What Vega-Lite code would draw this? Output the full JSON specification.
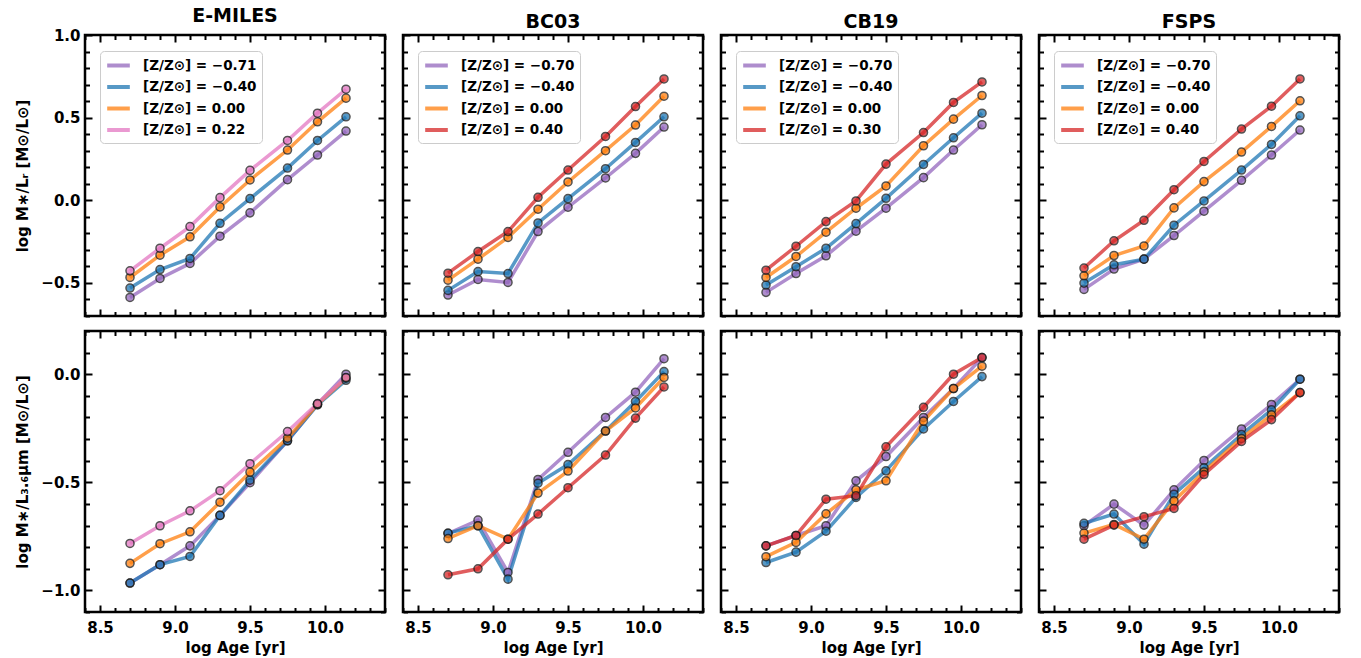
{
"$schema": "https://vega.github.io/schema/vega-lite/v6.json",
"padding": {"left": 14, "top": 5, "right": 5, "bottom": 5},
"data": {"values": [
{"model":"E-MILES","band":"r","Z":"-0.71","age":8.7,"ml":-0.588},{"model":"E-MILES","band":"r","Z":"-0.71","age":8.9,"ml":-0.473},{"model":"E-MILES","band":"r","Z":"-0.71","age":9.1,"ml":-0.382},{"model":"E-MILES","band":"r","Z":"-0.71","age":9.3,"ml":-0.217},{"model":"E-MILES","band":"r","Z":"-0.71","age":9.5,"ml":-0.076},{"model":"E-MILES","band":"r","Z":"-0.71","age":9.75,"ml":0.125},{"model":"E-MILES","band":"r","Z":"-0.71","age":9.95,"ml":0.274},{"model":"E-MILES","band":"r","Z":"-0.71","age":10.14,"ml":0.419},
{"model":"E-MILES","band":"r","Z":"-0.40","age":8.7,"ml":-0.531},{"model":"E-MILES","band":"r","Z":"-0.40","age":8.9,"ml":-0.419},{"model":"E-MILES","band":"r","Z":"-0.40","age":9.1,"ml":-0.352},{"model":"E-MILES","band":"r","Z":"-0.40","age":9.3,"ml":-0.139},{"model":"E-MILES","band":"r","Z":"-0.40","age":9.5,"ml":0.010},{"model":"E-MILES","band":"r","Z":"-0.40","age":9.75,"ml":0.195},{"model":"E-MILES","band":"r","Z":"-0.40","age":9.95,"ml":0.362},{"model":"E-MILES","band":"r","Z":"-0.40","age":10.14,"ml":0.505},
{"model":"E-MILES","band":"r","Z":"0.00","age":8.7,"ml":-0.467},{"model":"E-MILES","band":"r","Z":"0.00","age":8.9,"ml":-0.332},{"model":"E-MILES","band":"r","Z":"0.00","age":9.1,"ml":-0.221},{"model":"E-MILES","band":"r","Z":"0.00","age":9.3,"ml":-0.040},{"model":"E-MILES","band":"r","Z":"0.00","age":9.5,"ml":0.123},{"model":"E-MILES","band":"r","Z":"0.00","age":9.75,"ml":0.304},{"model":"E-MILES","band":"r","Z":"0.00","age":9.95,"ml":0.475},{"model":"E-MILES","band":"r","Z":"0.00","age":10.14,"ml":0.618},
{"model":"E-MILES","band":"r","Z":"0.22","age":8.7,"ml":-0.427},{"model":"E-MILES","band":"r","Z":"0.22","age":8.9,"ml":-0.290},{"model":"E-MILES","band":"r","Z":"0.22","age":9.1,"ml":-0.159},{"model":"E-MILES","band":"r","Z":"0.22","age":9.3,"ml":0.016},{"model":"E-MILES","band":"r","Z":"0.22","age":9.5,"ml":0.181},{"model":"E-MILES","band":"r","Z":"0.22","age":9.75,"ml":0.362},{"model":"E-MILES","band":"r","Z":"0.22","age":9.95,"ml":0.527},{"model":"E-MILES","band":"r","Z":"0.22","age":10.14,"ml":0.672},
{"model":"BC03","band":"r","Z":"-0.70","age":8.7,"ml":-0.573},{"model":"BC03","band":"r","Z":"-0.70","age":8.9,"ml":-0.479},{"model":"BC03","band":"r","Z":"-0.70","age":9.1,"ml":-0.497},{"model":"BC03","band":"r","Z":"-0.70","age":9.3,"ml":-0.189},{"model":"BC03","band":"r","Z":"-0.70","age":9.5,"ml":-0.042},{"model":"BC03","band":"r","Z":"-0.70","age":9.75,"ml":0.135},{"model":"BC03","band":"r","Z":"-0.70","age":9.95,"ml":0.284},{"model":"BC03","band":"r","Z":"-0.70","age":10.14,"ml":0.443},
{"model":"BC03","band":"r","Z":"-0.40","age":8.7,"ml":-0.545},{"model":"BC03","band":"r","Z":"-0.40","age":8.9,"ml":-0.431},{"model":"BC03","band":"r","Z":"-0.40","age":9.1,"ml":-0.443},{"model":"BC03","band":"r","Z":"-0.40","age":9.3,"ml":-0.137},{"model":"BC03","band":"r","Z":"-0.40","age":9.5,"ml":0.010},{"model":"BC03","band":"r","Z":"-0.40","age":9.75,"ml":0.191},{"model":"BC03","band":"r","Z":"-0.40","age":9.95,"ml":0.350},{"model":"BC03","band":"r","Z":"-0.40","age":10.14,"ml":0.505},
{"model":"BC03","band":"r","Z":"0.00","age":8.7,"ml":-0.483},{"model":"BC03","band":"r","Z":"0.00","age":8.9,"ml":-0.356},{"model":"BC03","band":"r","Z":"0.00","age":9.1,"ml":-0.225},{"model":"BC03","band":"r","Z":"0.00","age":9.3,"ml":-0.054},{"model":"BC03","band":"r","Z":"0.00","age":9.5,"ml":0.111},{"model":"BC03","band":"r","Z":"0.00","age":9.75,"ml":0.300},{"model":"BC03","band":"r","Z":"0.00","age":9.95,"ml":0.455},{"model":"BC03","band":"r","Z":"0.00","age":10.14,"ml":0.630},
{"model":"BC03","band":"r","Z":"0.40","age":8.7,"ml":-0.441},{"model":"BC03","band":"r","Z":"0.40","age":8.9,"ml":-0.310},{"model":"BC03","band":"r","Z":"0.40","age":9.1,"ml":-0.189},{"model":"BC03","band":"r","Z":"0.40","age":9.3,"ml":0.018},{"model":"BC03","band":"r","Z":"0.40","age":9.5,"ml":0.183},{"model":"BC03","band":"r","Z":"0.40","age":9.75,"ml":0.386},{"model":"BC03","band":"r","Z":"0.40","age":9.95,"ml":0.567},{"model":"BC03","band":"r","Z":"0.40","age":10.14,"ml":0.734},
{"model":"CB19","band":"r","Z":"-0.70","age":8.7,"ml":-0.557},{"model":"CB19","band":"r","Z":"-0.70","age":8.9,"ml":-0.443},{"model":"CB19","band":"r","Z":"-0.70","age":9.1,"ml":-0.336},{"model":"CB19","band":"r","Z":"-0.70","age":9.3,"ml":-0.187},{"model":"CB19","band":"r","Z":"-0.70","age":9.5,"ml":-0.048},{"model":"CB19","band":"r","Z":"-0.70","age":9.75,"ml":0.137},{"model":"CB19","band":"r","Z":"-0.70","age":9.95,"ml":0.304},{"model":"CB19","band":"r","Z":"-0.70","age":10.14,"ml":0.457},
{"model":"CB19","band":"r","Z":"-0.40","age":8.7,"ml":-0.513},{"model":"CB19","band":"r","Z":"-0.40","age":8.9,"ml":-0.402},{"model":"CB19","band":"r","Z":"-0.40","age":9.1,"ml":-0.290},{"model":"CB19","band":"r","Z":"-0.40","age":9.3,"ml":-0.141},{"model":"CB19","band":"r","Z":"-0.40","age":9.5,"ml":0.012},{"model":"CB19","band":"r","Z":"-0.40","age":9.75,"ml":0.217},{"model":"CB19","band":"r","Z":"-0.40","age":9.95,"ml":0.378},{"model":"CB19","band":"r","Z":"-0.40","age":10.14,"ml":0.527},
{"model":"CB19","band":"r","Z":"0.00","age":8.7,"ml":-0.467},{"model":"CB19","band":"r","Z":"0.00","age":8.9,"ml":-0.340},{"model":"CB19","band":"r","Z":"0.00","age":9.1,"ml":-0.193},{"model":"CB19","band":"r","Z":"0.00","age":9.3,"ml":-0.048},{"model":"CB19","band":"r","Z":"0.00","age":9.5,"ml":0.087},{"model":"CB19","band":"r","Z":"0.00","age":9.75,"ml":0.330},{"model":"CB19","band":"r","Z":"0.00","age":9.95,"ml":0.491},{"model":"CB19","band":"r","Z":"0.00","age":10.14,"ml":0.634},
{"model":"CB19","band":"r","Z":"0.30","age":8.7,"ml":-0.423},{"model":"CB19","band":"r","Z":"0.30","age":8.9,"ml":-0.278},{"model":"CB19","band":"r","Z":"0.30","age":9.1,"ml":-0.129},{"model":"CB19","band":"r","Z":"0.30","age":9.3,"ml":-0.004},{"model":"CB19","band":"r","Z":"0.30","age":9.5,"ml":0.219},{"model":"CB19","band":"r","Z":"0.30","age":9.75,"ml":0.410},{"model":"CB19","band":"r","Z":"0.30","age":9.95,"ml":0.592},{"model":"CB19","band":"r","Z":"0.30","age":10.14,"ml":0.716},
{"model":"FSPS","band":"r","Z":"-0.70","age":8.7,"ml":-0.539},{"model":"FSPS","band":"r","Z":"-0.70","age":8.9,"ml":-0.416},{"model":"FSPS","band":"r","Z":"-0.70","age":9.1,"ml":-0.356},{"model":"FSPS","band":"r","Z":"-0.70","age":9.3,"ml":-0.213},{"model":"FSPS","band":"r","Z":"-0.70","age":9.5,"ml":-0.066},{"model":"FSPS","band":"r","Z":"-0.70","age":9.75,"ml":0.121},{"model":"FSPS","band":"r","Z":"-0.70","age":9.95,"ml":0.274},{"model":"FSPS","band":"r","Z":"-0.70","age":10.14,"ml":0.425},
{"model":"FSPS","band":"r","Z":"-0.40","age":8.7,"ml":-0.501},{"model":"FSPS","band":"r","Z":"-0.40","age":8.9,"ml":-0.390},{"model":"FSPS","band":"r","Z":"-0.40","age":9.1,"ml":-0.356},{"model":"FSPS","band":"r","Z":"-0.40","age":9.3,"ml":-0.151},{"model":"FSPS","band":"r","Z":"-0.40","age":9.5,"ml":-0.004},{"model":"FSPS","band":"r","Z":"-0.40","age":9.75,"ml":0.183},{"model":"FSPS","band":"r","Z":"-0.40","age":9.95,"ml":0.338},{"model":"FSPS","band":"r","Z":"-0.40","age":10.14,"ml":0.511},
{"model":"FSPS","band":"r","Z":"0.00","age":8.7,"ml":-0.457},{"model":"FSPS","band":"r","Z":"0.00","age":8.9,"ml":-0.334},{"model":"FSPS","band":"r","Z":"0.00","age":9.1,"ml":-0.276},{"model":"FSPS","band":"r","Z":"0.00","age":9.3,"ml":-0.046},{"model":"FSPS","band":"r","Z":"0.00","age":9.5,"ml":0.113},{"model":"FSPS","band":"r","Z":"0.00","age":9.75,"ml":0.292},{"model":"FSPS","band":"r","Z":"0.00","age":9.95,"ml":0.447},{"model":"FSPS","band":"r","Z":"0.00","age":10.14,"ml":0.602},
{"model":"FSPS","band":"r","Z":"0.40","age":8.7,"ml":-0.410},{"model":"FSPS","band":"r","Z":"0.40","age":8.9,"ml":-0.245},{"model":"FSPS","band":"r","Z":"0.40","age":9.1,"ml":-0.121},{"model":"FSPS","band":"r","Z":"0.40","age":9.3,"ml":0.064},{"model":"FSPS","band":"r","Z":"0.40","age":9.5,"ml":0.235},{"model":"FSPS","band":"r","Z":"0.40","age":9.75,"ml":0.431},{"model":"FSPS","band":"r","Z":"0.40","age":9.95,"ml":0.569},{"model":"FSPS","band":"r","Z":"0.40","age":10.14,"ml":0.734},
{"model":"E-MILES","band":"ir","Z":"-0.71","age":8.7,"ml":-0.966},{"model":"E-MILES","band":"ir","Z":"-0.71","age":8.9,"ml":-0.881},{"model":"E-MILES","band":"ir","Z":"-0.71","age":9.1,"ml":-0.794},{"model":"E-MILES","band":"ir","Z":"-0.71","age":9.3,"ml":-0.653},{"model":"E-MILES","band":"ir","Z":"-0.71","age":9.5,"ml":-0.502},{"model":"E-MILES","band":"ir","Z":"-0.71","age":9.75,"ml":-0.308},{"model":"E-MILES","band":"ir","Z":"-0.71","age":9.95,"ml":-0.139},{"model":"E-MILES","band":"ir","Z":"-0.71","age":10.14,"ml":0.000},
{"model":"E-MILES","band":"ir","Z":"-0.40","age":8.7,"ml":-0.966},{"model":"E-MILES","band":"ir","Z":"-0.40","age":8.9,"ml":-0.881},{"model":"E-MILES","band":"ir","Z":"-0.40","age":9.1,"ml":-0.843},{"model":"E-MILES","band":"ir","Z":"-0.40","age":9.3,"ml":-0.653},{"model":"E-MILES","band":"ir","Z":"-0.40","age":9.5,"ml":-0.490},{"model":"E-MILES","band":"ir","Z":"-0.40","age":9.75,"ml":-0.308},{"model":"E-MILES","band":"ir","Z":"-0.40","age":9.95,"ml":-0.142},{"model":"E-MILES","band":"ir","Z":"-0.40","age":10.14,"ml":-0.028},
{"model":"E-MILES","band":"ir","Z":"0.00","age":8.7,"ml":-0.875},{"model":"E-MILES","band":"ir","Z":"0.00","age":8.9,"ml":-0.784},{"model":"E-MILES","band":"ir","Z":"0.00","age":9.1,"ml":-0.729},{"model":"E-MILES","band":"ir","Z":"0.00","age":9.3,"ml":-0.592},{"model":"E-MILES","band":"ir","Z":"0.00","age":9.5,"ml":-0.453},{"model":"E-MILES","band":"ir","Z":"0.00","age":9.75,"ml":-0.296},{"model":"E-MILES","band":"ir","Z":"0.00","age":9.95,"ml":-0.139},{"model":"E-MILES","band":"ir","Z":"0.00","age":10.14,"ml":-0.018},
{"model":"E-MILES","band":"ir","Z":"0.22","age":8.7,"ml":-0.783},{"model":"E-MILES","band":"ir","Z":"0.22","age":8.9,"ml":-0.701},{"model":"E-MILES","band":"ir","Z":"0.22","age":9.1,"ml":-0.632},{"model":"E-MILES","band":"ir","Z":"0.22","age":9.3,"ml":-0.539},{"model":"E-MILES","band":"ir","Z":"0.22","age":9.5,"ml":-0.414},{"model":"E-MILES","band":"ir","Z":"0.22","age":9.75,"ml":-0.265},{"model":"E-MILES","band":"ir","Z":"0.22","age":9.95,"ml":-0.136},{"model":"E-MILES","band":"ir","Z":"0.22","age":10.14,"ml":-0.015},
{"model":"BC03","band":"ir","Z":"-0.70","age":8.7,"ml":-0.737},{"model":"BC03","band":"ir","Z":"-0.70","age":8.9,"ml":-0.675},{"model":"BC03","band":"ir","Z":"-0.70","age":9.1,"ml":-0.917},{"model":"BC03","band":"ir","Z":"-0.70","age":9.3,"ml":-0.487},{"model":"BC03","band":"ir","Z":"-0.70","age":9.5,"ml":-0.361},{"model":"BC03","band":"ir","Z":"-0.70","age":9.75,"ml":-0.200},{"model":"BC03","band":"ir","Z":"-0.70","age":9.95,"ml":-0.083},{"model":"BC03","band":"ir","Z":"-0.70","age":10.14,"ml":0.072},
{"model":"BC03","band":"ir","Z":"-0.40","age":8.7,"ml":-0.735},{"model":"BC03","band":"ir","Z":"-0.40","age":8.9,"ml":-0.701},{"model":"BC03","band":"ir","Z":"-0.40","age":9.1,"ml":-0.948},{"model":"BC03","band":"ir","Z":"-0.40","age":9.3,"ml":-0.504},{"model":"BC03","band":"ir","Z":"-0.40","age":9.5,"ml":-0.418},{"model":"BC03","band":"ir","Z":"-0.40","age":9.75,"ml":-0.263},{"model":"BC03","band":"ir","Z":"-0.40","age":9.95,"ml":-0.126},{"model":"BC03","band":"ir","Z":"-0.40","age":10.14,"ml":0.012},
{"model":"BC03","band":"ir","Z":"0.00","age":8.7,"ml":-0.760},{"model":"BC03","band":"ir","Z":"0.00","age":8.9,"ml":-0.701},{"model":"BC03","band":"ir","Z":"0.00","age":9.1,"ml":-0.763},{"model":"BC03","band":"ir","Z":"0.00","age":9.3,"ml":-0.550},{"model":"BC03","band":"ir","Z":"0.00","age":9.5,"ml":-0.448},{"model":"BC03","band":"ir","Z":"0.00","age":9.75,"ml":-0.263},{"model":"BC03","band":"ir","Z":"0.00","age":9.95,"ml":-0.156},{"model":"BC03","band":"ir","Z":"0.00","age":10.14,"ml":-0.015},
{"model":"BC03","band":"ir","Z":"0.40","age":8.7,"ml":-0.928},{"model":"BC03","band":"ir","Z":"0.40","age":8.9,"ml":-0.900},{"model":"BC03","band":"ir","Z":"0.40","age":9.1,"ml":-0.763},{"model":"BC03","band":"ir","Z":"0.40","age":9.3,"ml":-0.647},{"model":"BC03","band":"ir","Z":"0.40","age":9.5,"ml":-0.525},{"model":"BC03","band":"ir","Z":"0.40","age":9.75,"ml":-0.374},{"model":"BC03","band":"ir","Z":"0.40","age":9.95,"ml":-0.203},{"model":"BC03","band":"ir","Z":"0.40","age":10.14,"ml":-0.059},
{"model":"CB19","band":"ir","Z":"-0.70","age":8.7,"ml":-0.794},{"model":"CB19","band":"ir","Z":"-0.70","age":8.9,"ml":-0.746},{"model":"CB19","band":"ir","Z":"-0.70","age":9.1,"ml":-0.701},{"model":"CB19","band":"ir","Z":"-0.70","age":9.3,"ml":-0.493},{"model":"CB19","band":"ir","Z":"-0.70","age":9.5,"ml":-0.381},{"model":"CB19","band":"ir","Z":"-0.70","age":9.75,"ml":-0.200},{"model":"CB19","band":"ir","Z":"-0.70","age":9.95,"ml":-0.066},{"model":"CB19","band":"ir","Z":"-0.70","age":10.14,"ml":0.077},
{"model":"CB19","band":"ir","Z":"-0.40","age":8.7,"ml":-0.871},{"model":"CB19","band":"ir","Z":"-0.40","age":8.9,"ml":-0.823},{"model":"CB19","band":"ir","Z":"-0.40","age":9.1,"ml":-0.726},{"model":"CB19","band":"ir","Z":"-0.40","age":9.3,"ml":-0.570},{"model":"CB19","band":"ir","Z":"-0.40","age":9.5,"ml":-0.447},{"model":"CB19","band":"ir","Z":"-0.40","age":9.75,"ml":-0.253},{"model":"CB19","band":"ir","Z":"-0.40","age":9.95,"ml":-0.126},{"model":"CB19","band":"ir","Z":"-0.40","age":10.14,"ml":-0.011},
{"model":"CB19","band":"ir","Z":"0.00","age":8.7,"ml":-0.844},{"model":"CB19","band":"ir","Z":"0.00","age":8.9,"ml":-0.778},{"model":"CB19","band":"ir","Z":"0.00","age":9.1,"ml":-0.646},{"model":"CB19","band":"ir","Z":"0.00","age":9.3,"ml":-0.535},{"model":"CB19","band":"ir","Z":"0.00","age":9.5,"ml":-0.493},{"model":"CB19","band":"ir","Z":"0.00","age":9.75,"ml":-0.217},{"model":"CB19","band":"ir","Z":"0.00","age":9.95,"ml":-0.066},{"model":"CB19","band":"ir","Z":"0.00","age":10.14,"ml":0.037},
{"model":"CB19","band":"ir","Z":"0.30","age":8.7,"ml":-0.794},{"model":"CB19","band":"ir","Z":"0.30","age":8.9,"ml":-0.746},{"model":"CB19","band":"ir","Z":"0.30","age":9.1,"ml":-0.578},{"model":"CB19","band":"ir","Z":"0.30","age":9.3,"ml":-0.562},{"model":"CB19","band":"ir","Z":"0.30","age":9.5,"ml":-0.336},{"model":"CB19","band":"ir","Z":"0.30","age":9.75,"ml":-0.153},{"model":"CB19","band":"ir","Z":"0.30","age":9.95,"ml":0.000},{"model":"CB19","band":"ir","Z":"0.30","age":10.14,"ml":0.077},
{"model":"FSPS","band":"ir","Z":"-0.70","age":8.7,"ml":-0.701},{"model":"FSPS","band":"ir","Z":"-0.70","age":8.9,"ml":-0.601},{"model":"FSPS","band":"ir","Z":"-0.70","age":9.1,"ml":-0.698},{"model":"FSPS","band":"ir","Z":"-0.70","age":9.3,"ml":-0.535},{"model":"FSPS","band":"ir","Z":"-0.70","age":9.5,"ml":-0.399},{"model":"FSPS","band":"ir","Z":"-0.70","age":9.75,"ml":-0.253},{"model":"FSPS","band":"ir","Z":"-0.70","age":9.95,"ml":-0.140},{"model":"FSPS","band":"ir","Z":"-0.70","age":10.14,"ml":-0.023},
{"model":"FSPS","band":"ir","Z":"-0.40","age":8.7,"ml":-0.690},{"model":"FSPS","band":"ir","Z":"-0.40","age":8.9,"ml":-0.647},{"model":"FSPS","band":"ir","Z":"-0.40","age":9.1,"ml":-0.786},{"model":"FSPS","band":"ir","Z":"-0.40","age":9.3,"ml":-0.555},{"model":"FSPS","band":"ir","Z":"-0.40","age":9.5,"ml":-0.433},{"model":"FSPS","band":"ir","Z":"-0.40","age":9.75,"ml":-0.279},{"model":"FSPS","band":"ir","Z":"-0.40","age":9.95,"ml":-0.165},{"model":"FSPS","band":"ir","Z":"-0.40","age":10.14,"ml":-0.023},
{"model":"FSPS","band":"ir","Z":"0.00","age":8.7,"ml":-0.735},{"model":"FSPS","band":"ir","Z":"0.00","age":8.9,"ml":-0.695},{"model":"FSPS","band":"ir","Z":"0.00","age":9.1,"ml":-0.763},{"model":"FSPS","band":"ir","Z":"0.00","age":9.3,"ml":-0.586},{"model":"FSPS","band":"ir","Z":"0.00","age":9.5,"ml":-0.451},{"model":"FSPS","band":"ir","Z":"0.00","age":9.75,"ml":-0.297},{"model":"FSPS","band":"ir","Z":"0.00","age":9.95,"ml":-0.188},{"model":"FSPS","band":"ir","Z":"0.00","age":10.14,"ml":-0.085},
{"model":"FSPS","band":"ir","Z":"0.40","age":8.7,"ml":-0.763},{"model":"FSPS","band":"ir","Z":"0.40","age":8.9,"ml":-0.698},{"model":"FSPS","band":"ir","Z":"0.40","age":9.1,"ml":-0.659},{"model":"FSPS","band":"ir","Z":"0.40","age":9.3,"ml":-0.621},{"model":"FSPS","band":"ir","Z":"0.40","age":9.5,"ml":-0.464},{"model":"FSPS","band":"ir","Z":"0.40","age":9.75,"ml":-0.311},{"model":"FSPS","band":"ir","Z":"0.40","age":9.95,"ml":-0.210},{"model":"FSPS","band":"ir","Z":"0.40","age":10.14,"ml":-0.085}
]},
"columns": 4,
"spacing": {"row": 15, "column": 18},
"bounds": "flush",
"resolve": {"scale": {"color": "independent", "fill": "independent"}, "legend": {"color": "independent"}},
"concat": [
 {"width": 300, "height": 281, "title": "E-MILES",
  "transform": [{"filter": "datum.model === 'E-MILES' && datum.band === 'r'"}],
  "layer": [
   {"mark": {"type": "line", "strokeWidth": 3.5, "opacity": 0.75},
    "encoding": {
     "x": {"field": "age", "type": "quantitative", "scale": {"domain": [8.4, 10.4], "nice": false, "zero": false}, "axis": {"orient": "bottom", "values": [8.4,8.5,8.6,8.7,8.8,8.9,9.0,9.1,9.2,9.3,9.4,9.5,9.6,9.7,9.8,9.9,10.0,10.1,10.2,10.3,10.4], "labels": false, "title": null, "tickSize": {"condition": {"test": "abs(datum.value*2-round(datum.value*2))<0.001", "value": -7}, "value": -4.5}}},
     "y": {"field": "ml", "type": "quantitative", "scale": {"domain": [-0.7, 1.0], "nice": false, "zero": false}, "axis": {"orient": "left", "values": [-0.7,-0.6,-0.5,-0.4,-0.3,-0.2,-0.1,0,0.1,0.2,0.3,0.4,0.5,0.6,0.7,0.8,0.9,1.0], "labelExpr": "abs(datum.value*2-round(datum.value*2))<0.001 ? format(datum.value,'.1f') : ''", "labelPadding": 12, "title": "log M∗/Lᵣ [M⊙/L⊙]", "tickSize": {"condition": {"test": "abs(datum.value*2-round(datum.value*2))<0.001", "value": -7}, "value": -4.5}}},
     "color": {"field": "Z", "type": "nominal", "scale": {"domain": ["-0.71","-0.40","0.00","0.22"], "range": ["#9467bd","#1f77b4","#ff7f0e","#e377c2"]},
       "legend": {"title": null, "orient": "none", "legendX": 15, "legendY": 16, "symbolType": "M-1.6,0H1.6", "symbolStrokeWidth": 4, "symbolSize": 200, "symbolOffset": 4, "symbolOpacity": 0.75, "labelFont": "DejaVu Sans", "labelFontSize": 13.5, "labelFontWeight": "bold", "labelColor": "black", "labelOffset": 15, "labelExpr": "'[Z/Z⊙] = ' + replace(datum.label, '-', '−')", "fillColor": "white", "strokeColor": "#cccccc", "cornerRadius": 4, "padding": 5, "rowPadding": 3.5}}
    }},
   {"mark": {"type": "point", "filled": true, "size": 65, "stroke": "#1a1a1a", "strokeWidth": 1.5, "opacity": 0.75},
    "encoding": {
     "x": {"field": "age", "type": "quantitative", "axis": {"orient": "top", "values": [8.4,8.5,8.6,8.7,8.8,8.9,9.0,9.1,9.2,9.3,9.4,9.5,9.6,9.7,9.8,9.9,10.0,10.1,10.2,10.3,10.4], "labels": false, "title": null, "tickSize": {"condition": {"test": "abs(datum.value*2-round(datum.value*2))<0.001", "value": -7}, "value": -4.5}}},
     "y": {"field": "ml", "type": "quantitative", "axis": {"orient": "right", "values": [-0.7,-0.6,-0.5,-0.4,-0.3,-0.2,-0.1,0,0.1,0.2,0.3,0.4,0.5,0.6,0.7,0.8,0.9,1.0], "labels": false, "title": null, "tickSize": {"condition": {"test": "abs(datum.value*2-round(datum.value*2))<0.001", "value": -7}, "value": -4.5}}},
     "fill": {"field": "Z", "type": "nominal", "scale": {"domain": ["-0.71","-0.40","0.00","0.22"], "range": ["#9467bd","#1f77b4","#ff7f0e","#e377c2"]}, "legend": null}
    }}
  ],
  "resolve": {"axis": {"x": "independent", "y": "independent"}}
 },
 {"width": 300, "height": 281, "title": "BC03",
  "transform": [{"filter": "datum.model === 'BC03' && datum.band === 'r'"}],
  "layer": [
   {"mark": {"type": "line", "strokeWidth": 3.5, "opacity": 0.75},
    "encoding": {
     "x": {"field": "age", "type": "quantitative", "scale": {"domain": [8.4, 10.4], "nice": false, "zero": false}, "axis": {"orient": "bottom", "values": [8.4,8.5,8.6,8.7,8.8,8.9,9.0,9.1,9.2,9.3,9.4,9.5,9.6,9.7,9.8,9.9,10.0,10.1,10.2,10.3,10.4], "labels": false, "title": null, "tickSize": {"condition": {"test": "abs(datum.value*2-round(datum.value*2))<0.001", "value": -7}, "value": -4.5}}},
     "y": {"field": "ml", "type": "quantitative", "scale": {"domain": [-0.7, 1.0], "nice": false, "zero": false}, "axis": {"orient": "left", "values": [-0.7,-0.6,-0.5,-0.4,-0.3,-0.2,-0.1,0,0.1,0.2,0.3,0.4,0.5,0.6,0.7,0.8,0.9,1.0], "labels": false, "title": null, "tickSize": {"condition": {"test": "abs(datum.value*2-round(datum.value*2))<0.001", "value": -7}, "value": -4.5}}},
     "color": {"field": "Z", "type": "nominal", "scale": {"domain": ["-0.70","-0.40","0.00","0.40"], "range": ["#9467bd","#1f77b4","#ff7f0e","#d62728"]},
       "legend": {"title": null, "orient": "none", "legendX": 15, "legendY": 16, "symbolType": "M-1.6,0H1.6", "symbolStrokeWidth": 4, "symbolSize": 200, "symbolOffset": 4, "symbolOpacity": 0.75, "labelFont": "DejaVu Sans", "labelFontSize": 13.5, "labelFontWeight": "bold", "labelColor": "black", "labelOffset": 15, "labelExpr": "'[Z/Z⊙] = ' + replace(datum.label, '-', '−')", "fillColor": "white", "strokeColor": "#cccccc", "cornerRadius": 4, "padding": 5, "rowPadding": 3.5}}
    }},
   {"mark": {"type": "point", "filled": true, "size": 65, "stroke": "#1a1a1a", "strokeWidth": 1.5, "opacity": 0.75},
    "encoding": {
     "x": {"field": "age", "type": "quantitative", "axis": {"orient": "top", "values": [8.4,8.5,8.6,8.7,8.8,8.9,9.0,9.1,9.2,9.3,9.4,9.5,9.6,9.7,9.8,9.9,10.0,10.1,10.2,10.3,10.4], "labels": false, "title": null, "tickSize": {"condition": {"test": "abs(datum.value*2-round(datum.value*2))<0.001", "value": -7}, "value": -4.5}}},
     "y": {"field": "ml", "type": "quantitative", "axis": {"orient": "right", "values": [-0.7,-0.6,-0.5,-0.4,-0.3,-0.2,-0.1,0,0.1,0.2,0.3,0.4,0.5,0.6,0.7,0.8,0.9,1.0], "labels": false, "title": null, "tickSize": {"condition": {"test": "abs(datum.value*2-round(datum.value*2))<0.001", "value": -7}, "value": -4.5}}},
     "fill": {"field": "Z", "type": "nominal", "scale": {"domain": ["-0.70","-0.40","0.00","0.40"], "range": ["#9467bd","#1f77b4","#ff7f0e","#d62728"]}, "legend": null}
    }}
  ],
  "resolve": {"axis": {"x": "independent", "y": "independent"}}
 },
 {"width": 300, "height": 281, "title": "CB19",
  "transform": [{"filter": "datum.model === 'CB19' && datum.band === 'r'"}],
  "layer": [
   {"mark": {"type": "line", "strokeWidth": 3.5, "opacity": 0.75},
    "encoding": {
     "x": {"field": "age", "type": "quantitative", "scale": {"domain": [8.4, 10.4], "nice": false, "zero": false}, "axis": {"orient": "bottom", "values": [8.4,8.5,8.6,8.7,8.8,8.9,9.0,9.1,9.2,9.3,9.4,9.5,9.6,9.7,9.8,9.9,10.0,10.1,10.2,10.3,10.4], "labels": false, "title": null, "tickSize": {"condition": {"test": "abs(datum.value*2-round(datum.value*2))<0.001", "value": -7}, "value": -4.5}}},
     "y": {"field": "ml", "type": "quantitative", "scale": {"domain": [-0.7, 1.0], "nice": false, "zero": false}, "axis": {"orient": "left", "values": [-0.7,-0.6,-0.5,-0.4,-0.3,-0.2,-0.1,0,0.1,0.2,0.3,0.4,0.5,0.6,0.7,0.8,0.9,1.0], "labels": false, "title": null, "tickSize": {"condition": {"test": "abs(datum.value*2-round(datum.value*2))<0.001", "value": -7}, "value": -4.5}}},
     "color": {"field": "Z", "type": "nominal", "scale": {"domain": ["-0.70","-0.40","0.00","0.30"], "range": ["#9467bd","#1f77b4","#ff7f0e","#d62728"]},
       "legend": {"title": null, "orient": "none", "legendX": 15, "legendY": 16, "symbolType": "M-1.6,0H1.6", "symbolStrokeWidth": 4, "symbolSize": 200, "symbolOffset": 4, "symbolOpacity": 0.75, "labelFont": "DejaVu Sans", "labelFontSize": 13.5, "labelFontWeight": "bold", "labelColor": "black", "labelOffset": 15, "labelExpr": "'[Z/Z⊙] = ' + replace(datum.label, '-', '−')", "fillColor": "white", "strokeColor": "#cccccc", "cornerRadius": 4, "padding": 5, "rowPadding": 3.5}}
    }},
   {"mark": {"type": "point", "filled": true, "size": 65, "stroke": "#1a1a1a", "strokeWidth": 1.5, "opacity": 0.75},
    "encoding": {
     "x": {"field": "age", "type": "quantitative", "axis": {"orient": "top", "values": [8.4,8.5,8.6,8.7,8.8,8.9,9.0,9.1,9.2,9.3,9.4,9.5,9.6,9.7,9.8,9.9,10.0,10.1,10.2,10.3,10.4], "labels": false, "title": null, "tickSize": {"condition": {"test": "abs(datum.value*2-round(datum.value*2))<0.001", "value": -7}, "value": -4.5}}},
     "y": {"field": "ml", "type": "quantitative", "axis": {"orient": "right", "values": [-0.7,-0.6,-0.5,-0.4,-0.3,-0.2,-0.1,0,0.1,0.2,0.3,0.4,0.5,0.6,0.7,0.8,0.9,1.0], "labels": false, "title": null, "tickSize": {"condition": {"test": "abs(datum.value*2-round(datum.value*2))<0.001", "value": -7}, "value": -4.5}}},
     "fill": {"field": "Z", "type": "nominal", "scale": {"domain": ["-0.70","-0.40","0.00","0.30"], "range": ["#9467bd","#1f77b4","#ff7f0e","#d62728"]}, "legend": null}
    }}
  ],
  "resolve": {"axis": {"x": "independent", "y": "independent"}}
 },
 {"width": 300, "height": 281, "title": "FSPS",
  "transform": [{"filter": "datum.model === 'FSPS' && datum.band === 'r'"}],
  "layer": [
   {"mark": {"type": "line", "strokeWidth": 3.5, "opacity": 0.75},
    "encoding": {
     "x": {"field": "age", "type": "quantitative", "scale": {"domain": [8.4, 10.4], "nice": false, "zero": false}, "axis": {"orient": "bottom", "values": [8.4,8.5,8.6,8.7,8.8,8.9,9.0,9.1,9.2,9.3,9.4,9.5,9.6,9.7,9.8,9.9,10.0,10.1,10.2,10.3,10.4], "labels": false, "title": null, "tickSize": {"condition": {"test": "abs(datum.value*2-round(datum.value*2))<0.001", "value": -7}, "value": -4.5}}},
     "y": {"field": "ml", "type": "quantitative", "scale": {"domain": [-0.7, 1.0], "nice": false, "zero": false}, "axis": {"orient": "left", "values": [-0.7,-0.6,-0.5,-0.4,-0.3,-0.2,-0.1,0,0.1,0.2,0.3,0.4,0.5,0.6,0.7,0.8,0.9,1.0], "labels": false, "title": null, "tickSize": {"condition": {"test": "abs(datum.value*2-round(datum.value*2))<0.001", "value": -7}, "value": -4.5}}},
     "color": {"field": "Z", "type": "nominal", "scale": {"domain": ["-0.70","-0.40","0.00","0.40"], "range": ["#9467bd","#1f77b4","#ff7f0e","#d62728"]},
       "legend": {"title": null, "orient": "none", "legendX": 15, "legendY": 16, "symbolType": "M-1.6,0H1.6", "symbolStrokeWidth": 4, "symbolSize": 200, "symbolOffset": 4, "symbolOpacity": 0.75, "labelFont": "DejaVu Sans", "labelFontSize": 13.5, "labelFontWeight": "bold", "labelColor": "black", "labelOffset": 15, "labelExpr": "'[Z/Z⊙] = ' + replace(datum.label, '-', '−')", "fillColor": "white", "strokeColor": "#cccccc", "cornerRadius": 4, "padding": 5, "rowPadding": 3.5}}
    }},
   {"mark": {"type": "point", "filled": true, "size": 65, "stroke": "#1a1a1a", "strokeWidth": 1.5, "opacity": 0.75},
    "encoding": {
     "x": {"field": "age", "type": "quantitative", "axis": {"orient": "top", "values": [8.4,8.5,8.6,8.7,8.8,8.9,9.0,9.1,9.2,9.3,9.4,9.5,9.6,9.7,9.8,9.9,10.0,10.1,10.2,10.3,10.4], "labels": false, "title": null, "tickSize": {"condition": {"test": "abs(datum.value*2-round(datum.value*2))<0.001", "value": -7}, "value": -4.5}}},
     "y": {"field": "ml", "type": "quantitative", "axis": {"orient": "right", "values": [-0.7,-0.6,-0.5,-0.4,-0.3,-0.2,-0.1,0,0.1,0.2,0.3,0.4,0.5,0.6,0.7,0.8,0.9,1.0], "labels": false, "title": null, "tickSize": {"condition": {"test": "abs(datum.value*2-round(datum.value*2))<0.001", "value": -7}, "value": -4.5}}},
     "fill": {"field": "Z", "type": "nominal", "scale": {"domain": ["-0.70","-0.40","0.00","0.40"], "range": ["#9467bd","#1f77b4","#ff7f0e","#d62728"]}, "legend": null}
    }}
  ],
  "resolve": {"axis": {"x": "independent", "y": "independent"}}
 },
 {"width": 300, "height": 281,
  "transform": [{"filter": "datum.model === 'E-MILES' && datum.band === 'ir'"}],
  "layer": [
   {"mark": {"type": "line", "strokeWidth": 3.5, "opacity": 0.75},
    "encoding": {
     "x": {"field": "age", "type": "quantitative", "scale": {"domain": [8.4, 10.4], "nice": false, "zero": false}, "axis": {"orient": "bottom", "values": [8.4,8.5,8.6,8.7,8.8,8.9,9.0,9.1,9.2,9.3,9.4,9.5,9.6,9.7,9.8,9.9,10.0,10.1,10.2,10.3,10.4], "labelExpr": "abs(datum.value*2-round(datum.value*2))<0.001 ? format(datum.value,'.1f') : ''", "labelPadding": 15, "title": "log Age [yr]", "titlePadding": 3, "tickSize": {"condition": {"test": "abs(datum.value*2-round(datum.value*2))<0.001", "value": -7}, "value": -4.5}}},
     "y": {"field": "ml", "type": "quantitative", "scale": {"domain": [-1.1, 0.2], "nice": false, "zero": false}, "axis": {"orient": "left", "values": [-1.1,-1.0,-0.9,-0.8,-0.7,-0.6,-0.5,-0.4,-0.3,-0.2,-0.1,0,0.1,0.2], "labelExpr": "abs(datum.value*2-round(datum.value*2))<0.001 ? format(datum.value,'.1f') : ''", "labelPadding": 12, "title": "log M∗/L₃.₆μm [M⊙/L⊙]", "tickSize": {"condition": {"test": "abs(datum.value*2-round(datum.value*2))<0.001", "value": -7}, "value": -4.5}}},
     "color": {"field": "Z", "type": "nominal", "scale": {"domain": ["-0.71","-0.40","0.00","0.22"], "range": ["#9467bd","#1f77b4","#ff7f0e","#e377c2"]}, "legend": null}
    }},
   {"mark": {"type": "point", "filled": true, "size": 65, "stroke": "#1a1a1a", "strokeWidth": 1.5, "opacity": 0.75},
    "encoding": {
     "x": {"field": "age", "type": "quantitative", "axis": {"orient": "top", "values": [8.4,8.5,8.6,8.7,8.8,8.9,9.0,9.1,9.2,9.3,9.4,9.5,9.6,9.7,9.8,9.9,10.0,10.1,10.2,10.3,10.4], "labels": false, "title": null, "tickSize": {"condition": {"test": "abs(datum.value*2-round(datum.value*2))<0.001", "value": -7}, "value": -4.5}}},
     "y": {"field": "ml", "type": "quantitative", "axis": {"orient": "right", "values": [-1.1,-1.0,-0.9,-0.8,-0.7,-0.6,-0.5,-0.4,-0.3,-0.2,-0.1,0,0.1,0.2], "labels": false, "title": null, "tickSize": {"condition": {"test": "abs(datum.value*2-round(datum.value*2))<0.001", "value": -7}, "value": -4.5}}},
     "fill": {"field": "Z", "type": "nominal", "scale": {"domain": ["-0.71","-0.40","0.00","0.22"], "range": ["#9467bd","#1f77b4","#ff7f0e","#e377c2"]}, "legend": null}
    }}
  ],
  "resolve": {"axis": {"x": "independent", "y": "independent"}}
 },
 {"width": 300, "height": 281,
  "transform": [{"filter": "datum.model === 'BC03' && datum.band === 'ir'"}],
  "layer": [
   {"mark": {"type": "line", "strokeWidth": 3.5, "opacity": 0.75},
    "encoding": {
     "x": {"field": "age", "type": "quantitative", "scale": {"domain": [8.4, 10.4], "nice": false, "zero": false}, "axis": {"orient": "bottom", "values": [8.4,8.5,8.6,8.7,8.8,8.9,9.0,9.1,9.2,9.3,9.4,9.5,9.6,9.7,9.8,9.9,10.0,10.1,10.2,10.3,10.4], "labelExpr": "abs(datum.value*2-round(datum.value*2))<0.001 ? format(datum.value,'.1f') : ''", "labelPadding": 15, "title": "log Age [yr]", "titlePadding": 3, "tickSize": {"condition": {"test": "abs(datum.value*2-round(datum.value*2))<0.001", "value": -7}, "value": -4.5}}},
     "y": {"field": "ml", "type": "quantitative", "scale": {"domain": [-1.1, 0.2], "nice": false, "zero": false}, "axis": {"orient": "left", "values": [-1.1,-1.0,-0.9,-0.8,-0.7,-0.6,-0.5,-0.4,-0.3,-0.2,-0.1,0,0.1,0.2], "labels": false, "title": null, "tickSize": {"condition": {"test": "abs(datum.value*2-round(datum.value*2))<0.001", "value": -7}, "value": -4.5}}},
     "color": {"field": "Z", "type": "nominal", "scale": {"domain": ["-0.70","-0.40","0.00","0.40"], "range": ["#9467bd","#1f77b4","#ff7f0e","#d62728"]}, "legend": null}
    }},
   {"mark": {"type": "point", "filled": true, "size": 65, "stroke": "#1a1a1a", "strokeWidth": 1.5, "opacity": 0.75},
    "encoding": {
     "x": {"field": "age", "type": "quantitative", "axis": {"orient": "top", "values": [8.4,8.5,8.6,8.7,8.8,8.9,9.0,9.1,9.2,9.3,9.4,9.5,9.6,9.7,9.8,9.9,10.0,10.1,10.2,10.3,10.4], "labels": false, "title": null, "tickSize": {"condition": {"test": "abs(datum.value*2-round(datum.value*2))<0.001", "value": -7}, "value": -4.5}}},
     "y": {"field": "ml", "type": "quantitative", "axis": {"orient": "right", "values": [-1.1,-1.0,-0.9,-0.8,-0.7,-0.6,-0.5,-0.4,-0.3,-0.2,-0.1,0,0.1,0.2], "labels": false, "title": null, "tickSize": {"condition": {"test": "abs(datum.value*2-round(datum.value*2))<0.001", "value": -7}, "value": -4.5}}},
     "fill": {"field": "Z", "type": "nominal", "scale": {"domain": ["-0.70","-0.40","0.00","0.40"], "range": ["#9467bd","#1f77b4","#ff7f0e","#d62728"]}, "legend": null}
    }}
  ],
  "resolve": {"axis": {"x": "independent", "y": "independent"}}
 },
 {"width": 300, "height": 281,
  "transform": [{"filter": "datum.model === 'CB19' && datum.band === 'ir'"}],
  "layer": [
   {"mark": {"type": "line", "strokeWidth": 3.5, "opacity": 0.75},
    "encoding": {
     "x": {"field": "age", "type": "quantitative", "scale": {"domain": [8.4, 10.4], "nice": false, "zero": false}, "axis": {"orient": "bottom", "values": [8.4,8.5,8.6,8.7,8.8,8.9,9.0,9.1,9.2,9.3,9.4,9.5,9.6,9.7,9.8,9.9,10.0,10.1,10.2,10.3,10.4], "labelExpr": "abs(datum.value*2-round(datum.value*2))<0.001 ? format(datum.value,'.1f') : ''", "labelPadding": 15, "title": "log Age [yr]", "titlePadding": 3, "tickSize": {"condition": {"test": "abs(datum.value*2-round(datum.value*2))<0.001", "value": -7}, "value": -4.5}}},
     "y": {"field": "ml", "type": "quantitative", "scale": {"domain": [-1.1, 0.2], "nice": false, "zero": false}, "axis": {"orient": "left", "values": [-1.1,-1.0,-0.9,-0.8,-0.7,-0.6,-0.5,-0.4,-0.3,-0.2,-0.1,0,0.1,0.2], "labels": false, "title": null, "tickSize": {"condition": {"test": "abs(datum.value*2-round(datum.value*2))<0.001", "value": -7}, "value": -4.5}}},
     "color": {"field": "Z", "type": "nominal", "scale": {"domain": ["-0.70","-0.40","0.00","0.30"], "range": ["#9467bd","#1f77b4","#ff7f0e","#d62728"]}, "legend": null}
    }},
   {"mark": {"type": "point", "filled": true, "size": 65, "stroke": "#1a1a1a", "strokeWidth": 1.5, "opacity": 0.75},
    "encoding": {
     "x": {"field": "age", "type": "quantitative", "axis": {"orient": "top", "values": [8.4,8.5,8.6,8.7,8.8,8.9,9.0,9.1,9.2,9.3,9.4,9.5,9.6,9.7,9.8,9.9,10.0,10.1,10.2,10.3,10.4], "labels": false, "title": null, "tickSize": {"condition": {"test": "abs(datum.value*2-round(datum.value*2))<0.001", "value": -7}, "value": -4.5}}},
     "y": {"field": "ml", "type": "quantitative", "axis": {"orient": "right", "values": [-1.1,-1.0,-0.9,-0.8,-0.7,-0.6,-0.5,-0.4,-0.3,-0.2,-0.1,0,0.1,0.2], "labels": false, "title": null, "tickSize": {"condition": {"test": "abs(datum.value*2-round(datum.value*2))<0.001", "value": -7}, "value": -4.5}}},
     "fill": {"field": "Z", "type": "nominal", "scale": {"domain": ["-0.70","-0.40","0.00","0.30"], "range": ["#9467bd","#1f77b4","#ff7f0e","#d62728"]}, "legend": null}
    }}
  ],
  "resolve": {"axis": {"x": "independent", "y": "independent"}}
 },
 {"width": 300, "height": 281,
  "transform": [{"filter": "datum.model === 'FSPS' && datum.band === 'ir'"}],
  "layer": [
   {"mark": {"type": "line", "strokeWidth": 3.5, "opacity": 0.75},
    "encoding": {
     "x": {"field": "age", "type": "quantitative", "scale": {"domain": [8.4, 10.4], "nice": false, "zero": false}, "axis": {"orient": "bottom", "values": [8.4,8.5,8.6,8.7,8.8,8.9,9.0,9.1,9.2,9.3,9.4,9.5,9.6,9.7,9.8,9.9,10.0,10.1,10.2,10.3,10.4], "labelExpr": "abs(datum.value*2-round(datum.value*2))<0.001 ? format(datum.value,'.1f') : ''", "labelPadding": 15, "title": "log Age [yr]", "titlePadding": 3, "tickSize": {"condition": {"test": "abs(datum.value*2-round(datum.value*2))<0.001", "value": -7}, "value": -4.5}}},
     "y": {"field": "ml", "type": "quantitative", "scale": {"domain": [-1.1, 0.2], "nice": false, "zero": false}, "axis": {"orient": "left", "values": [-1.1,-1.0,-0.9,-0.8,-0.7,-0.6,-0.5,-0.4,-0.3,-0.2,-0.1,0,0.1,0.2], "labels": false, "title": null, "tickSize": {"condition": {"test": "abs(datum.value*2-round(datum.value*2))<0.001", "value": -7}, "value": -4.5}}},
     "color": {"field": "Z", "type": "nominal", "scale": {"domain": ["-0.70","-0.40","0.00","0.40"], "range": ["#9467bd","#1f77b4","#ff7f0e","#d62728"]}, "legend": null}
    }},
   {"mark": {"type": "point", "filled": true, "size": 65, "stroke": "#1a1a1a", "strokeWidth": 1.5, "opacity": 0.75},
    "encoding": {
     "x": {"field": "age", "type": "quantitative", "axis": {"orient": "top", "values": [8.4,8.5,8.6,8.7,8.8,8.9,9.0,9.1,9.2,9.3,9.4,9.5,9.6,9.7,9.8,9.9,10.0,10.1,10.2,10.3,10.4], "labels": false, "title": null, "tickSize": {"condition": {"test": "abs(datum.value*2-round(datum.value*2))<0.001", "value": -7}, "value": -4.5}}},
     "y": {"field": "ml", "type": "quantitative", "axis": {"orient": "right", "values": [-1.1,-1.0,-0.9,-0.8,-0.7,-0.6,-0.5,-0.4,-0.3,-0.2,-0.1,0,0.1,0.2], "labels": false, "title": null, "tickSize": {"condition": {"test": "abs(datum.value*2-round(datum.value*2))<0.001", "value": -7}, "value": -4.5}}},
     "fill": {"field": "Z", "type": "nominal", "scale": {"domain": ["-0.70","-0.40","0.00","0.40"], "range": ["#9467bd","#1f77b4","#ff7f0e","#d62728"]}, "legend": null}
    }}
  ],
  "resolve": {"axis": {"x": "independent", "y": "independent"}}
 }
],
"config": {
 "view": {"stroke": "black", "strokeWidth": 2.5},
 "axis": {"domain": false, "grid": false, "minExtent": 0, "tickColor": "black", "tickWidth": 2, "labelFont": "DejaVu Sans", "labelFontSize": 15, "labelFontWeight": "bold", "labelColor": "black", "titleFont": "DejaVu Sans", "titleFontSize": 15, "titleFontWeight": "bold", "titleColor": "black", "labelOverlap": false, "labelFlush": false, "titlePadding": 10},
 "title": {"font": "DejaVu Sans", "fontSize": 19, "fontWeight": "bold", "color": "black", "offset": 2}
}
}
